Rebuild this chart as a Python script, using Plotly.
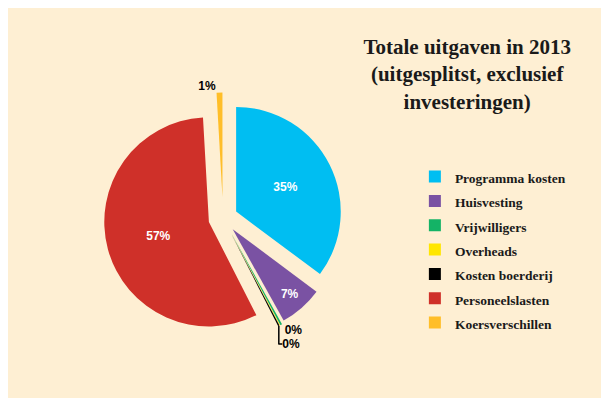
import plotly.graph_objects as go

# ---- data ----
categories = ["Programma kosten", "Huisvesting", "Vrijwilligers", "Overheads",
              "Kosten boerderij", "Personeelslasten", "Koersverschillen"]
values = [35.2, 6.7, 0.3, 0.1, 0.2, 56.6, 0.9]   # percent of total

# ---- styles ----
colors = ["#00BEF2", "#7A52A3", "#14B366", "#FFE600", "#000000", "#CF3029", "#FFBE28"]
label_positions = ["inside", "inside", "outside", "none", "outside", "inside", "outside"]
pulls = [0.14, 0.14, 0.16, 0.16, 0.16, 0.14, 0.2]

legend_labels = ["<span style='font-size:13.5px'>%s</span>" % c for c in categories]

BG = "#FEEFD3"

fig = go.Figure(go.Pie(
    labels=legend_labels,
    values=values,
    sort=False,
    direction="clockwise",
    rotation=0,
    pull=pulls,
    marker=dict(colors=colors, line=dict(width=0)),
    texttemplate="%{percent:.0%}",
    textposition=label_positions,
    insidetextfont=dict(family="Liberation Sans", size=12, color="white", weight="bold"),
    outsidetextfont=dict(family="Liberation Sans", size=12, color="black", weight="bold"),
    insidetextorientation="horizontal",
    hoverinfo="label+percent",
    domain=dict(x=[0.144, 0.5716], y=[0.119, 0.778]),
))

fig.update_layout(
    width=601, height=390,
    margin=dict(l=0, r=0, t=0, b=0),
    paper_bgcolor=BG, plot_bgcolor=BG,
    title=dict(
        text="Totale uitgaven in 2013<br>(uitgesplitst, exclusief<br>investeringen)",
        x=0.764, xanchor="center", y=0.882, yanchor="top", yref="container",
        font=dict(family="Liberation Serif", size=21, color="#1a1a1a", weight="bold"),
    ),
    showlegend=True,
    legend=dict(
        x=0.677, xanchor="left", y=0.365, yanchor="middle",
        font=dict(family="Liberation Serif", size=16.4, color="#1a1a1a", weight="bold"),
        bgcolor="rgba(0,0,0,0)", traceorder="normal",
    ),
)

fig.write_html("out.html")
